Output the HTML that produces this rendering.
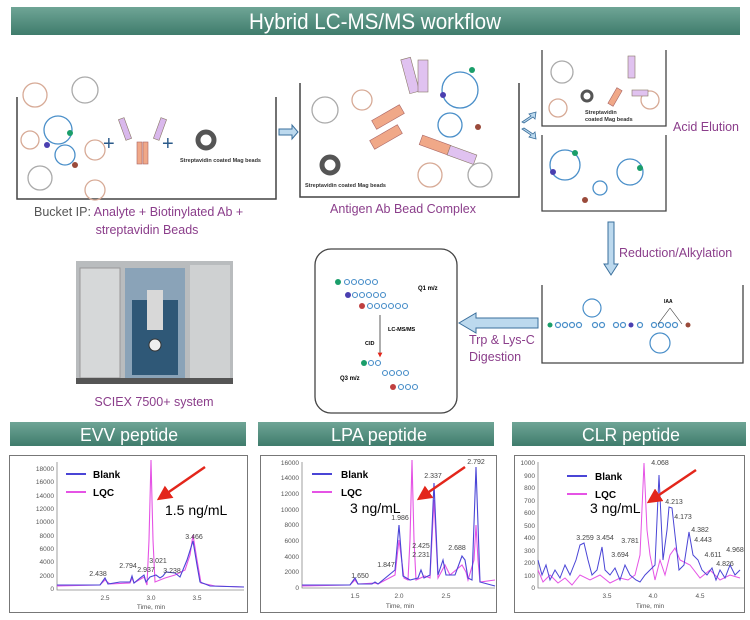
<!DOCTYPE html>
<html><head><meta charset="utf-8"><style>
html,body{margin:0;padding:0;background:#fff;}
svg{display:block;font-family:"Liberation Sans",sans-serif;}
.ban{font-family:"Liberation Sans Narrow","Liberation Sans",sans-serif;fill:#fff;}
.pur{fill:#8b3e8b;font-size:12.5px;}
.tk{font-size:6.5px;fill:#555;}
.pk{font-size:7px;fill:#444;}
</style></head><body>
<svg width="750" height="620" viewBox="0 0 750 620">
<defs>
<linearGradient id="g" x1="0" y1="0" x2="0" y2="1"><stop offset="0" stop-color="#6fa596"/><stop offset="1" stop-color="#3f7c6c"/></linearGradient>
<marker id="ar" markerWidth="6" markerHeight="6" refX="3" refY="3" orient="auto"><path d="M0,0L6,3L0,6z" fill="#e3261b"/></marker>
</defs>
<rect x="11" y="7" width="729" height="28" fill="url(#g)"/>
<text x="249" y="29" class="ban" font-size="22" textLength="252" lengthAdjust="spacingAndGlyphs">Hybrid LC-MS/MS workflow</text>

<!-- box1 -->
<path d="M17,97V199H276V97" fill="none" stroke="#444" stroke-width="1.5"/>
<g fill="none" stroke-width="1.3">
<g stroke="#d7aa96"><circle cx="35" cy="95" r="12"/><circle cx="95" cy="150" r="10"/><circle cx="30" cy="140" r="9"/><circle cx="95" cy="190" r="10"/></g>
<g stroke="#aaa"><circle cx="85" cy="90" r="13"/><circle cx="40" cy="178" r="12"/></g>
<g stroke="#4a8fc9"><circle cx="58" cy="130" r="14"/><circle cx="65" cy="155" r="10"/></g>
</g>
<circle cx="70" cy="133" r="3" fill="#1a9e6a"/><circle cx="47" cy="145" r="3" fill="#4a3fb0"/><circle cx="75" cy="165" r="3" fill="#9a4a3a"/>
<text x="103" y="150" font-size="20" fill="#2a5a8a">+</text>
<text x="162" y="150" font-size="20" fill="#2a5a8a">+</text>
<g fill="#f0a888" stroke="#a66" stroke-width=".6"><rect x="137" y="142" width="5" height="22"/><rect x="143" y="142" width="5" height="22"/></g>
<g fill="#d9b8ec" stroke="#876" stroke-width=".6"><rect x="122" y="118" width="6" height="22" transform="rotate(-20 125 129)"/><rect x="157" y="118" width="6" height="22" transform="rotate(20 160 129)"/></g>
<circle cx="206" cy="140" r="8" fill="none" stroke="#555" stroke-width="5"/>
<text x="180" y="162" font-size="5.5" font-weight="bold" fill="#333">Streptavidin coated Mag beads</text>
<text x="34" y="216" font-size="12.5" fill="#555">Bucket IP: <tspan fill="#8b3e8b">Analyte + Biotinylated Ab +</tspan></text>
<text x="147" y="234" text-anchor="middle" class="pur">streptavidin Beads</text>

<path d="M279,129h13v-4l6,7l-6,7v-4h-13z" fill="#bcd9ee" stroke="#3a6f9c"/>

<!-- box2 -->
<path d="M300,83V197H519V83" fill="none" stroke="#444" stroke-width="1.5"/>
<g fill="#f0a888" stroke="#a66" stroke-width=".6">
<rect x="372" y="112" width="32" height="10" transform="rotate(-30 388 117)"/><rect x="370" y="132" width="32" height="10" transform="rotate(-30 386 137)"/>
<rect x="420" y="140" width="30" height="10" transform="rotate(20 435 145)"/></g>
<g fill="#e0c2f0" stroke="#876" stroke-width=".6"><rect x="405" y="58" width="10" height="35" transform="rotate(-15 410 75)"/><rect x="418" y="60" width="10" height="32"/><rect x="448" y="150" width="28" height="10" transform="rotate(20 462 155)"/></g>
<g fill="none" stroke="#4a8fc9" stroke-width="1.3"><circle cx="460" cy="90" r="18"/><circle cx="450" cy="125" r="12"/></g>
<circle cx="472" cy="70" r="3" fill="#1a9e6a"/><circle cx="443" cy="95" r="3" fill="#4a3fb0"/><circle cx="478" cy="127" r="3" fill="#9a4a3a"/>
<g fill="none" stroke-width="1.3"><circle cx="325" cy="110" r="13" stroke="#aaa"/><circle cx="480" cy="175" r="12" stroke="#aaa"/><circle cx="362" cy="100" r="10" stroke="#d7aa96"/><circle cx="430" cy="175" r="12" stroke="#d7aa96"/></g>
<circle cx="330" cy="165" r="8" fill="none" stroke="#555" stroke-width="5"/>
<text x="305" y="187" font-size="5.5" font-weight="bold" fill="#333">Streptavidin coated Mag beads</text>
<text x="403" y="213" text-anchor="middle" class="pur">Antigen Ab Bead Complex</text>

<path d="M522,122l9,-6l-2,-2l7,-2l-1,7l-2,-2l-9,6z" fill="#bcd9ee" stroke="#3a6f9c" stroke-width=".8"/>
<path d="M522,129l9,6l-2,2l7,2l-1,-7l-2,2l-9,-6z" fill="#bcd9ee" stroke="#3a6f9c" stroke-width=".8"/>

<!-- box3a,b -->
<path d="M542,50V126H666V50" fill="none" stroke="#444" stroke-width="1.3"/>
<path d="M542,135V211H666V135" fill="none" stroke="#444" stroke-width="1.3"/>
<g fill="none" stroke-width="1.3"><circle cx="562" cy="72" r="11" stroke="#aaa"/><circle cx="558" cy="108" r="9" stroke="#d7aa96"/><circle cx="650" cy="100" r="9" stroke="#d7aa96"/>
<circle cx="565" cy="165" r="15" stroke="#4a8fc9"/><circle cx="630" cy="172" r="13" stroke="#4a8fc9"/><circle cx="600" cy="188" r="7" stroke="#4a8fc9"/></g>
<circle cx="587" cy="96" r="5" fill="none" stroke="#555" stroke-width="3"/>
<g fill="#e0c2f0" stroke="#876" stroke-width=".6"><rect x="628" y="56" width="7" height="22"/><rect x="632" y="90" width="16" height="6"/></g>
<g fill="#f0a888" stroke="#a66" stroke-width=".6"><rect x="612" y="88" width="6" height="18" transform="rotate(30 615 97)"/></g>
<text x="585" y="114" font-size="5.5" font-weight="bold" fill="#333">Streptavidin</text>
<text x="585" y="121" font-size="5.5" font-weight="bold" fill="#333">coated Mag beads</text>
<circle cx="575" cy="153" r="3" fill="#1a9e6a"/><circle cx="553" cy="172" r="3" fill="#4a3fb0"/><circle cx="640" cy="168" r="3" fill="#1a9e6a"/><circle cx="585" cy="200" r="3" fill="#9a4a3a"/>
<text x="673" y="131" class="pur">Acid Elution</text>

<path d="M608,222v42h-4l7,11l7,-11h-4v-42z" fill="#bcd9ee" stroke="#3a6f9c"/>
<text x="619" y="257" class="pur">Reduction/Alkylation</text>

<!-- box4 -->
<path d="M542,285V363H743V285" fill="none" stroke="#444" stroke-width="1.3"/>
<g fill="none" stroke="#4a8fc9" stroke-width="1.2">
<circle cx="558" cy="325" r="2.5"/><circle cx="565" cy="325" r="2.5"/><circle cx="572" cy="325" r="2.5"/><circle cx="579" cy="325" r="2.5"/><circle cx="595" cy="325" r="2.5"/><circle cx="602" cy="325" r="2.5"/><circle cx="616" cy="325" r="2.5"/><circle cx="623" cy="325" r="2.5"/><circle cx="640" cy="325" r="2.5"/><circle cx="654" cy="325" r="2.5"/><circle cx="661" cy="325" r="2.5"/><circle cx="668" cy="325" r="2.5"/><circle cx="675" cy="325" r="2.5"/>
<circle cx="592" cy="308" r="9"/><circle cx="660" cy="343" r="10"/></g>
<circle cx="550" cy="325" r="2.5" fill="#1a9e6a"/><circle cx="631" cy="325" r="2.5" fill="#4a3fb0"/><circle cx="688" cy="325" r="2.5" fill="#9a4a3a"/>
<text x="664" y="303" font-size="5" font-weight="bold">IAA</text>
<path d="M670,308l-12,16M670,308l12,16" stroke="#333" stroke-width=".6"/>

<path d="M538,318h-62v-5l-17,10l17,10v-5h62z" fill="#bcd9ee" stroke="#3a6f9c"/>
<text x="469" y="344" class="pur">Trp &amp; Lys-C</text>
<text x="469" y="361" class="pur">Digestion</text>

<rect x="315" y="249" width="142" height="164" rx="16" fill="none" stroke="#444" stroke-width="1.3"/>
<g fill="none" stroke="#4a8fc9" stroke-width="1.1">
<circle cx="347" cy="282" r="2.5"/><circle cx="354" cy="282" r="2.5"/><circle cx="361" cy="282" r="2.5"/><circle cx="368" cy="282" r="2.5"/><circle cx="375" cy="282" r="2.5"/>
<circle cx="355" cy="295" r="2.5"/><circle cx="362" cy="295" r="2.5"/><circle cx="369" cy="295" r="2.5"/><circle cx="376" cy="295" r="2.5"/><circle cx="383" cy="295" r="2.5"/>
<circle cx="370" cy="306" r="2.5"/><circle cx="377" cy="306" r="2.5"/><circle cx="384" cy="306" r="2.5"/><circle cx="391" cy="306" r="2.5"/><circle cx="398" cy="306" r="2.5"/><circle cx="405" cy="306" r="2.5"/>
<circle cx="371" cy="363" r="2.5"/><circle cx="378" cy="363" r="2.5"/><circle cx="385" cy="373" r="2.5"/><circle cx="392" cy="373" r="2.5"/><circle cx="399" cy="373" r="2.5"/><circle cx="406" cy="373" r="2.5"/>
<circle cx="401" cy="387" r="2.5"/><circle cx="408" cy="387" r="2.5"/><circle cx="415" cy="387" r="2.5"/></g>
<circle cx="338" cy="282" r="3" fill="#1a9e6a"/><circle cx="348" cy="295" r="3" fill="#4a3fb0"/><circle cx="362" cy="306" r="3" fill="#c04040"/><circle cx="364" cy="363" r="3" fill="#1a9e6a"/><circle cx="393" cy="387" r="3" fill="#c04040"/>
<text x="418" y="290" font-size="6" font-weight="bold">Q1 m/z</text>
<path d="M380,315v40" stroke="#333" stroke-width=".8" marker-end="url(#ar)"/>
<text x="388" y="331" font-size="5.5" font-weight="bold">LC-MS/MS</text>
<text x="365" y="345" font-size="5.5" font-weight="bold">CID</text>
<text x="340" y="380" font-size="6" font-weight="bold">Q3 m/z</text>

<rect x="76" y="261" width="157" height="123" fill="#b9bcbe"/>
<rect x="80" y="268" width="40" height="110" fill="#d6d8d9" stroke="#999"/>
<rect x="190" y="265" width="40" height="113" fill="#cfd1d2"/>
<rect x="125" y="268" width="60" height="110" fill="#8aa3b8"/>
<rect x="132" y="300" width="46" height="75" fill="#2f5877"/>
<rect x="147" y="290" width="16" height="40" fill="#d8d8d8"/>
<circle cx="155" cy="345" r="6" fill="#eee" stroke="#333"/>
<rect x="76" y="378" width="157" height="6" fill="#555"/>
<text x="154" y="406" text-anchor="middle" class="pur">SCIEX 7500+ system</text>

<!-- banners -->
<rect x="10" y="422" width="236" height="24" fill="url(#g)"/>
<text x="80" y="441" class="ban" font-size="18" textLength="98" lengthAdjust="spacingAndGlyphs">EVV peptide</text>
<rect x="258" y="422" width="236" height="24" fill="url(#g)"/>
<text x="331" y="441" class="ban" font-size="18" textLength="96" lengthAdjust="spacingAndGlyphs">LPA peptide</text>
<rect x="512" y="422" width="234" height="24" fill="url(#g)"/>
<text x="582" y="441" class="ban" font-size="18" textLength="98" lengthAdjust="spacingAndGlyphs">CLR peptide</text>

<rect x="9.5" y="455.5" width="238" height="157" fill="#fff" stroke="#777"/>
<rect x="260.5" y="455.5" width="236" height="157" fill="#fff" stroke="#777"/>
<rect x="514.5" y="455.5" width="230" height="157" fill="#fff" stroke="#777"/>

<!-- EVV -->
<g>
<path d="M57,462V590H244" fill="none" stroke="#888" stroke-width=".8"/>
<g class="tk" text-anchor="end"><text x="54" y="591">0</text><text x="54" y="578">2000</text><text x="54" y="564">4000</text><text x="54" y="551">6000</text><text x="54" y="538">8000</text><text x="54" y="524">10000</text><text x="54" y="511">12000</text><text x="54" y="498">14000</text><text x="54" y="484">16000</text><text x="54" y="471">18000</text></g>
<g class="tk" text-anchor="middle"><text x="105" y="600">2.5</text><text x="151" y="600">3.0</text><text x="197" y="600">3.5</text><text x="151" y="609">Time, min</text></g>
<polyline fill="none" stroke="#e553e5" stroke-width="1.1" points="57,586 100,585 105,580 110,584 130,583 132,578 134,583 144,577 147,585 149,540 151,460 153,540 155,582 165,578 175,575 185,570 190,555 193,535 197,560 201,583 215,586 244,587"/>
<polyline fill="none" stroke="#4a45d6" stroke-width="1.1" points="57,585 100,585 105,578 108,584 120,582 130,582 132,576 134,583 140,578 144,575 146,582 150,577 156,575 160,578 163,576 166,572 175,573 180,577 187,560 193,541 197,565 200,582 210,586 244,587"/>
<line x1="66" y1="474" x2="86" y2="474" stroke="#4a45d6" stroke-width="2"/><text x="93" y="478" font-size="10" font-weight="bold">Blank</text>
<line x1="66" y1="492" x2="86" y2="492" stroke="#e553e5" stroke-width="2"/><text x="93" y="496" font-size="10" font-weight="bold">LQC</text>
<text x="165" y="515" font-size="14">1.5 ng/mL</text>
<line x1="205" y1="467" x2="163" y2="496" stroke="#e3261b" stroke-width="2.5" marker-end="url(#ar)"/>
<g class="pk" text-anchor="middle"><text x="98" y="576">2.438</text><text x="128" y="568">2.794</text><text x="146" y="572">2.937</text><text x="158" y="563">3.021</text><text x="172" y="573">3.238</text><text x="194" y="539">3.466</text></g>
</g>

<!-- LPA -->
<g>
<path d="M302,462V588H495" fill="none" stroke="#888" stroke-width=".8"/>
<g class="tk" text-anchor="end"><text x="299" y="590">0</text><text x="299" y="574">2000</text><text x="299" y="559">4000</text><text x="299" y="543">6000</text><text x="299" y="527">8000</text><text x="299" y="512">10000</text><text x="299" y="496">12000</text><text x="299" y="480">14000</text><text x="299" y="465">16000</text></g>
<g class="tk" text-anchor="middle"><text x="355" y="598">1.5</text><text x="399" y="598">2.0</text><text x="446" y="598">2.5</text><text x="400" y="608">Time, min</text></g>
<polyline fill="none" stroke="#e553e5" stroke-width="1.1" points="302,586 350,585 355,580 358,584 375,583 378,584 395,575 399,540 404,578 408,580 410,540 412,460 414,540 416,580 425,576 430,578 434,500 438,578 445,565 450,575 462,565 466,572 468,580 474,560 476,525 478,560 480,582 495,580"/>
<polyline fill="none" stroke="#4a45d6" stroke-width="1.1" points="302,585 350,585 355,578 358,584 372,584 375,582 378,584 395,570 399,525 403,576 410,580 418,578 421,570 424,578 430,575 434,483 438,575 443,560 446,575 455,575 462,556 465,560 468,578 472,580 476,467 480,582 495,586"/>
<line x1="312" y1="474" x2="332" y2="474" stroke="#4a45d6" stroke-width="2"/><text x="341" y="478" font-size="10" font-weight="bold">Blank</text>
<line x1="312" y1="492" x2="332" y2="492" stroke="#e553e5" stroke-width="2"/><text x="341" y="496" font-size="10" font-weight="bold">LQC</text>
<text x="350" y="513" font-size="14">3 ng/mL</text>
<line x1="465" y1="467" x2="423" y2="496" stroke="#e3261b" stroke-width="2.5" marker-end="url(#ar)"/>
<g class="pk" text-anchor="middle"><text x="360" y="578">1.650</text><text x="386" y="567">1.847</text><text x="400" y="520">1.986</text><text x="421" y="548">2.425</text><text x="421" y="557">2.231</text><text x="433" y="478">2.337</text><text x="457" y="550">2.688</text><text x="476" y="464">2.792</text></g>
</g>

<!-- CLR -->
<g>
<path d="M538,462V588H744" fill="none" stroke="#888" stroke-width=".8"/>
<g class="tk" text-anchor="end"><text x="535" y="590">0</text><text x="535" y="578">100</text><text x="535" y="565">200</text><text x="535" y="553">300</text><text x="535" y="540">400</text><text x="535" y="528">500</text><text x="535" y="515">600</text><text x="535" y="503">700</text><text x="535" y="490">800</text><text x="535" y="478">900</text><text x="535" y="465">1000</text></g>
<g class="tk" text-anchor="middle"><text x="607" y="598">3.5</text><text x="653" y="598">4.0</text><text x="700" y="598">4.5</text><text x="650" y="608">Time, min</text></g>
<polyline fill="none" stroke="#e553e5" stroke-width="1" points="538,570 543,582 550,575 558,583 565,578 572,585 580,575 590,580 600,575 610,583 620,578 628,580 635,575 640,555 644,463 647,530 650,555 655,580 660,560 665,575 670,555 675,548 680,560 690,565 700,578 710,570 720,580 730,575 740,578"/>
<polyline fill="none" stroke="#4a45d6" stroke-width="1" points="538,560 542,575 546,565 550,580 555,570 560,578 565,565 570,575 576,560 580,545 584,543 588,560 592,575 597,570 602,547 605,570 610,575 615,568 620,580 625,565 630,575 636,580 640,582 645,575 650,570 655,565 659,475 663,560 667,530 669,507 672,508 675,535 679,570 684,565 689,532 693,555 698,560 702,570 707,575 712,568 716,580 720,570 725,578 730,565 735,575 740,570"/>
<line x1="567" y1="476" x2="587" y2="476" stroke="#4a45d6" stroke-width="2"/><text x="595" y="480" font-size="10" font-weight="bold">Blank</text>
<line x1="567" y1="494" x2="587" y2="494" stroke="#e553e5" stroke-width="2"/><text x="595" y="498" font-size="10" font-weight="bold">LQC</text>
<text x="590" y="513" font-size="14">3 ng/mL</text>
<line x1="696" y1="470" x2="653" y2="499" stroke="#e3261b" stroke-width="2.5" marker-end="url(#ar)"/>
<g class="pk" text-anchor="middle"><text x="585" y="540">3.259</text><text x="605" y="540">3.454</text><text x="620" y="557">3.694</text><text x="630" y="543">3.781</text><text x="660" y="465">4.068</text><text x="674" y="504">4.213</text><text x="683" y="519">4.173</text><text x="700" y="532">4.382</text><text x="703" y="542">4.443</text><text x="713" y="557">4.611</text><text x="725" y="566">4.826</text><text x="735" y="552">4.968</text></g>
</g>
</svg>
</body></html>
